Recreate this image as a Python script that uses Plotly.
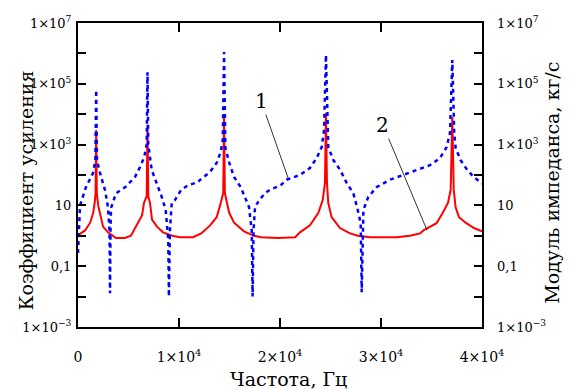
import math
import plotly.graph_objects as go

# ---- data (frequency, Hz) ----
red_f = [0, 700, 1200, 1500, 1650, 1740, 1800, 1860, 2000, 2150, 2480, 2970, 3760, 4650,
         5240, 5940, 6340, 6530, 6800, 6880, 6960, 7130, 7330, 7820, 8420, 9310, 10100,
         11390, 12200, 13080, 13730, 14130, 14380, 14460, 14540, 14750, 14980, 15450,
         16440, 17430, 18120, 19800, 21500, 21980, 22960, 23790, 24230, 24450, 24550,
         24650, 24780, 25110, 25940, 26930, 27720, 28920, 31550, 32870, 33860, 34200,
         34850, 35500, 36100, 36630, 36900, 37060, 37200, 37390, 37720, 38380, 39200, 40000]
red_gain = [1.05, 1.5, 2.7, 5.6, 12, 26, 3000, 26, 10, 5.6, 2.0, 1.3, 0.85, 0.85,
            1.0, 2.7, 4.7, 12, 20, 4400, 20, 12, 3.4, 2.0, 1.3, 1.0, 0.9,
            0.9, 1.2, 2.2, 4.1, 12, 26, 10000, 26, 12, 5.6, 2.7,
            1.4, 1.0, 0.9, 0.85, 0.9, 1.3, 2.2, 5.6, 15, 55, 11000,
            55, 12, 4.1, 1.8, 1.2, 1.0, 0.9, 0.9, 1.0, 1.2, 1.5,
            2.0, 2.6, 5.6, 12, 33, 8100, 33, 8.7, 4.1, 2.7, 1.8, 1.4]

blue_f = [0, 200, 790, 1490, 1720, 1800, 1880, 2180, 2670, 2970, 3120, 3170, 3220, 3270,
          3760, 4750, 5640, 6140, 6560, 6800, 6880, 6960, 7300, 7790, 8290, 8680, 8940,
          9000, 9100, 9280, 9600, 10200, 10890, 11880, 12080, 13070, 13730, 14130, 14330,
          14460, 14590, 14980, 15450, 16110, 16600, 16930, 17200, 17290, 17380, 17530,
          17950, 18510, 19010, 20070, 20660, 21980, 22960, 23630, 24130, 24360, 24550,
          24680, 24780, 25280, 25940, 26600, 27260, 27700, 27990, 28090, 28260, 28740,
          29570, 30890, 32200, 33530, 34850, 35840, 36500, 36830, 37060, 37250, 37390,
          37880, 38540, 39200, 39870, 40000]
blue_imp = [0.27, 10, 40, 116, 310, 63000, 300, 116, 32, 8.7, 1.5, 0.013, 1.5, 8.2,
            25, 42, 86, 182, 390, 1000, 240000, 1000, 146, 55, 19, 7.1, 0.73,
            0.01, 1.5, 12, 15, 32, 46, 58, 69, 126, 250, 570, 1400,
            1100000, 780, 250, 86, 40, 17, 8.9, 1.5, 0.01, 1.5, 8.9,
            15, 25, 33, 46, 70, 100, 170, 360, 830, 3000, 890000,
            3000, 830, 310, 150, 55, 25, 7, 2.6, 0.014, 7.1, 19,
            40, 70, 100, 146, 210, 360, 830, 2400, 610000, 2400, 770,
            310, 146, 85, 55, 52]

x_tickvals = [0, 10000, 20000, 30000, 40000]
x_ticktext = ["0", "1×10<sup>4</sup>", "2×10<sup>4</sup>", "3×10<sup>4</sup>", "4×10<sup>4</sup>"]
y_tickvals = [1e-3, 1e-2, 1e-1, 1, 10, 100, 1e3, 1e4, 1e5, 1e6, 1e7]
y_ticktext = ["1×10<sup>−3</sup>", "", "0,1", "", "10", "", "1×10<sup>3</sup>", "",
              "1×10<sup>5</sup>", "", "1×10<sup>7</sup>"]

FONT = "DejaVu Serif"

fig = go.Figure()
fig.add_trace(go.Scatter(x=red_f, y=red_gain, mode="lines",
                         line=dict(color="#ff0000", width=2), name="2"))
fig.add_trace(go.Scatter(x=blue_f, y=blue_imp, mode="lines", yaxis="y2",
                         line=dict(color="#0000ff", width=2.5, dash="4px,4px"), name="1"))

fig.update_layout(
    width=570, height=389,
    margin=dict(l=78, r=88, t=23, b=62),
    paper_bgcolor="white", plot_bgcolor="white",
    showlegend=False,
    font=dict(family=FONT, color="black", size=13),
    xaxis=dict(range=[0, 40000], tickvals=x_tickvals, ticktext=x_ticktext,
               ticks="inside", ticklen=9, tickwidth=2, tickcolor="black",
               showline=True, linecolor="black", linewidth=2, mirror="ticks",
               showgrid=False, zeroline=False, tickfont=dict(size=14, family=FONT),
               ticklabelstandoff=16),
    yaxis=dict(type="log", range=[-3, 7], tickvals=y_tickvals, ticktext=y_ticktext,
               ticks="inside", ticklen=8, tickwidth=2, tickcolor="black",
               showline=True, linecolor="black", linewidth=2, mirror="ticks",
               showgrid=False, zeroline=False, tickfont=dict(size=13, family=FONT),
               ticklabelstandoff=2),
    yaxis2=dict(type="log", range=[-3, 7], tickvals=y_tickvals, ticktext=y_ticktext,
                overlaying="y", side="right", ticks="", showline=False,
                showgrid=False, zeroline=False, tickfont=dict(size=13, family=FONT),
                ticklabelstandoff=14),
)

# leader labels (log axes take log10 positions for annotations)
fig.add_annotation(x=20800, y=math.log10(80), yref="y2", text="1", showarrow=True,
                   arrowhead=0, arrowwidth=0.8, arrowcolor="black", ax=-27, ay=-77,
                   font=dict(size=20, family=FONT))
fig.add_annotation(x=34550, y=math.log10(1.55), yref="y", text="2", showarrow=True,
                   arrowhead=0, arrowwidth=0.8, arrowcolor="black", ax=-44, ay=-105,
                   font=dict(size=20, family=FONT))

fig.add_annotation(xref="paper", yref="paper", x=-0.128, y=0.451, text="Коэффициент усиления",
                   textangle=-90, showarrow=False, xanchor="center", yanchor="middle",
                   font=dict(size=19, family=FONT))
fig.add_annotation(xref="paper", yref="paper", x=1.173, y=0.474, text="Модуль импеданса, кг/с",
                   textangle=-90, showarrow=False, xanchor="center", yanchor="middle",
                   font=dict(size=19, family=FONT))
fig.add_annotation(xref="paper", yref="paper", x=0.522, y=-0.172, text="Частота, Гц",
                   showarrow=False, xanchor="center", yanchor="middle",
                   font=dict(size=19, family=FONT))

fig.write_html("out.html")
